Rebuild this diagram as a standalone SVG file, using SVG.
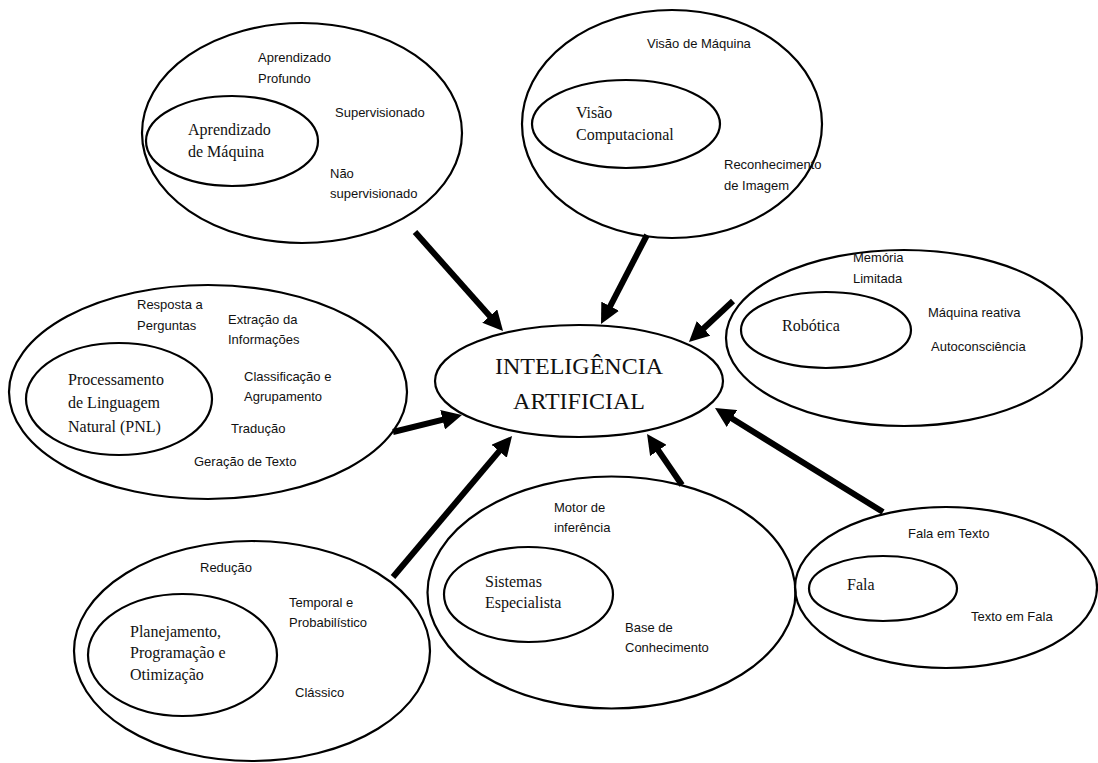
<svg xmlns="http://www.w3.org/2000/svg" width="1098" height="763" viewBox="0 0 1098 763">
<style>
.o{fill:none;stroke:#000;stroke-width:2.2}
.s{font-family:"Liberation Sans",Arial,sans-serif;font-size:13px;fill:#111}
.t{font-family:"Liberation Serif","Times New Roman",serif;font-size:16px;fill:#111}
.c{font-family:"Liberation Serif","Times New Roman",serif;font-size:24px;fill:#111;text-anchor:middle}
.a{stroke:#000;stroke-width:6;fill:none;marker-end:url(#ah)}
</style>
<defs>
<marker id="ah" markerUnits="userSpaceOnUse" markerWidth="20" markerHeight="20" refX="10" refY="10" orient="auto">
<path d="M0,0 L20,10 L0,20 z" fill="#000"/>
</marker>
</defs>
<rect width="1098" height="763" fill="#fff"/>
<g id="ia">
<ellipse class="o" cx="579" cy="381" rx="144" ry="56"/>
<text class="c" x="579" y="374">INTELIGÊNCIA</text>
<text class="c" x="579" y="409">ARTIFICIAL</text>
</g>
<g id="aprendizado">
<ellipse class="o" cx="302" cy="133" rx="160" ry="110"/>
<ellipse class="o" cx="232" cy="141" rx="86" ry="45"/>
<text class="t" x="188" y="135">Aprendizado</text>
<text class="t" x="188" y="157">de Máquina</text>
<text class="s" x="258" y="62">Aprendizado</text>
<text class="s" x="258" y="83">Profundo</text>
<text class="s" x="335" y="117">Supervisionado</text>
<text class="s" x="330" y="178">Não</text>
<text class="s" x="330" y="198">supervisionado</text>
</g>
<g id="visao">
<ellipse class="o" cx="672" cy="124" rx="150" ry="114"/>
<ellipse class="o" cx="626" cy="124" rx="94" ry="44"/>
<text class="t" x="576" y="118">Visão</text>
<text class="t" x="576" y="140">Computacional</text>
<text class="s" x="647" y="48">Visão de Máquina</text>
<text class="s" x="724" y="169">Reconhecimento</text>
<text class="s" x="724" y="190">de Imagem</text>
</g>
<g id="robotica">
<ellipse class="o" cx="904" cy="338" rx="178" ry="88"/>
<ellipse class="o" cx="826" cy="330" rx="85" ry="38"/>
<text class="t" x="782" y="331">Robótica</text>
<text class="s" x="853" y="262">Memória</text>
<text class="s" x="853" y="283">Limitada</text>
<text class="s" x="928" y="317">Máquina reativa</text>
<text class="s" x="931" y="351">Autoconsciência</text>
</g>
<g id="pnl">
<ellipse class="o" cx="208" cy="392" rx="199" ry="107"/>
<ellipse class="o" cx="119" cy="399" rx="93" ry="56"/>
<text class="t" x="68" y="385">Processamento</text>
<text class="t" x="68" y="408">de Linguagem</text>
<text class="t" x="68" y="432">Natural (PNL)</text>
<text class="s" x="137" y="309">Resposta a</text>
<text class="s" x="137" y="330">Perguntas</text>
<text class="s" x="228" y="324">Extração da</text>
<text class="s" x="228" y="344">Informações</text>
<text class="s" x="244" y="381">Classificação e</text>
<text class="s" x="244" y="401">Agrupamento</text>
<text class="s" x="231" y="433">Tradução</text>
<text class="s" x="194" y="466">Geração de Texto</text>
</g>
<g id="planejamento">
<ellipse class="o" cx="252" cy="651" rx="178" ry="110"/>
<ellipse class="o" cx="182.5" cy="655" rx="94.5" ry="61"/>
<text class="t" x="130" y="637">Planejamento,</text>
<text class="t" x="130" y="658">Programação e</text>
<text class="t" x="130" y="680">Otimização</text>
<text class="s" x="200" y="572">Redução</text>
<text class="s" x="289" y="607">Temporal e</text>
<text class="s" x="289" y="627">Probabilístico</text>
<text class="s" x="295" y="697">Clássico</text>
</g>
<g id="especialista">
<ellipse class="o" cx="611.5" cy="592.5" rx="184" ry="116"/>
<ellipse class="o" cx="528.5" cy="594.5" rx="84.5" ry="47.5"/>
<text class="t" x="485" y="587">Sistemas</text>
<text class="t" x="485" y="608">Especialista</text>
<text class="s" x="554" y="512">Motor de</text>
<text class="s" x="554" y="532">inferência</text>
<text class="s" x="625" y="632">Base de</text>
<text class="s" x="625" y="652">Conhecimento</text>
</g>
<g id="fala">
<ellipse class="o" cx="946" cy="587.5" rx="151" ry="80.5"/>
<ellipse class="o" cx="883" cy="588.5" rx="74" ry="32.5"/>
<text class="t" x="847" y="590">Fala</text>
<text class="s" x="908" y="538">Fala em Texto</text>
<text class="s" x="971" y="621">Texto em Fala</text>
</g>
<g id="connectors">
<line class="a" x1="415" y1="232" x2="496.4" y2="323.5"/>
<line class="a" x1="647" y1="235" x2="605.6" y2="315.1"/>
<line class="a" x1="733" y1="301" x2="696.3" y2="335.2"/>
<line class="a" x1="393" y1="432" x2="452.3" y2="417.4"/>
<line class="a" x1="393" y1="577" x2="505.6" y2="443.6"/>
<line class="a" x1="682" y1="485" x2="652.7" y2="442.2"/>
<line class="a" x1="883" y1="512" x2="723.5" y2="413.3"/>
</g>
</svg>
